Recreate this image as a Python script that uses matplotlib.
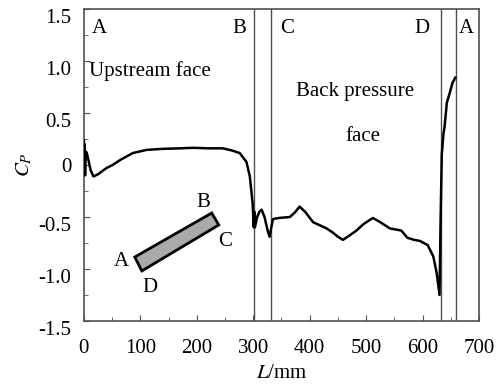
import matplotlib.pyplot as plt
import matplotlib.transforms as mtransforms
from matplotlib.patches import Polygon
import numpy as np

plt.rcParams['font.family'] = ['Liberation Serif', 'DejaVu Serif']
plt.rcParams['mathtext.fontset'] = 'stix'

# pressure coefficient along the perimeter
L = [0, 0.8, 1.5, 2.2, 3, 5, 8, 12, 17, 25, 40, 51, 65, 87, 111, 140, 170, 193,
     220, 246, 262, 276, 288, 294, 299, 301, 302, 303, 307, 311, 315, 320, 326,
     329, 332, 335, 345, 365, 375, 382, 392, 406, 418, 430, 441, 450, 459, 470,
     483, 495, 506, 512, 525, 542, 552, 562, 567, 573, 585, 595, 609, 619, 625,
     630, 632, 634, 637, 639, 643, 648, 653, 658]
Cp = [0.24, -0.08, 0.2, -0.1, 0.13, 0.12, 0.05, -0.05, -0.11, -0.09, -0.03, 0.0,
      0.05, 0.115, 0.145, 0.155, 0.16, 0.165, 0.16, 0.16, 0.14, 0.115, 0.03,
      -0.11, -0.37, -0.6, -0.45, -0.6, -0.5, -0.45, -0.43, -0.5, -0.64, -0.69,
      -0.6, -0.52, -0.51, -0.5, -0.45, -0.40, -0.45, -0.55, -0.58, -0.61, -0.65,
      -0.69, -0.72, -0.68, -0.63, -0.57, -0.53, -0.51, -0.55, -0.61, -0.62,
      -0.63, -0.66, -0.70, -0.72, -0.73, -0.77, -0.88, -1.04, -1.25, -0.5, 0.1,
      0.3, 0.37, 0.6, 0.69, 0.79, 0.84]

corners = [301, 332, 632, 659]
corner_names = ['B', 'C', 'D', 'A']

fig = plt.figure(figsize=(4.99, 3.9), dpi=100)
ax = fig.add_axes([0.168, 0.177, 0.792, 0.8])

ax.plot(L, Cp, color='black', lw=1.8, zorder=3)
for c in corners:
    ax.axvline(c, color='#505050', lw=1.0, zorder=2)

# section sketch
rect = Polygon([(90.3, -0.885), (226.5, -0.462), (239, -0.577), (102.7, -1.019)],
               closed=True, facecolor='#aaaaaa', edgecolor='black', lw=2, zorder=4)
ax.add_patch(rect)
fs = 15
ax.text(67, -0.93, 'A', fontsize=fs, ha='center', va='center')
ax.text(212, -0.36, 'B', fontsize=fs, ha='center', va='center')
ax.text(251, -0.74, 'C', fontsize=fs, ha='center', va='center')
ax.text(117, -1.18, 'D', fontsize=fs, ha='center', va='center')

# face labels
ax.text(28, 1.31, 'A', fontsize=fs, ha='center', va='center')
for c, n, x in zip(corners, corner_names, [275, 360, 598, 678]):
    ax.text(x, 1.31, n, fontsize=fs, ha='center', va='center')
ax.text(10, 0.90, 'Upstream face', fontsize=fs, ha='left', va='center')
ax.text(481, 0.71, 'Back pressure', fontsize=fs, ha='center', va='center')
ax.text(494, 0.27, 'face', fontsize=fs, ha='center', va='center')

ax.set_xlim(0, 700)
ax.set_ylim(-1.5, 1.5)
ax.set_xticks(np.arange(0, 701, 100))
ax.set_xticks(np.arange(50, 700, 100), minor=True)
ax.set_yticks([-1.5, -1.0, -0.5, 0, 0.5, 1.0, 1.5])
ax.set_yticklabels(['-1.5', '-1.0', '-0.5', '0', '0.5', '1.0', '1.5'])
ax.set_yticks(np.arange(-1.25, 1.5, 0.5), minor=True)
ax.tick_params(which='both', direction='in', labelsize=fs, colors='#505050',
               labelcolor='black')
ax.tick_params(which='major', length=4)
ax.tick_params(which='minor', length=3)
ax.tick_params(axis='y', which='major', pad=9)
ax.tick_params(axis='x', which='major', pad=13)
off = mtransforms.ScaledTranslation(0, -7 / 100, fig.dpi_scale_trans)
for lab in ax.get_yticklabels():
    if lab.get_text() != '0':
        lab.set_transform(lab.get_transform() + off)
for s in ax.spines.values():
    s.set_color('#505050')
    s.set_linewidth(1.2)

ax.set_xlabel('$L$/mm', fontsize=fs, labelpad=4)
ax.set_ylabel('$C_P$', fontsize=fs, labelpad=3)

fig.savefig('out.png', dpi=100)
